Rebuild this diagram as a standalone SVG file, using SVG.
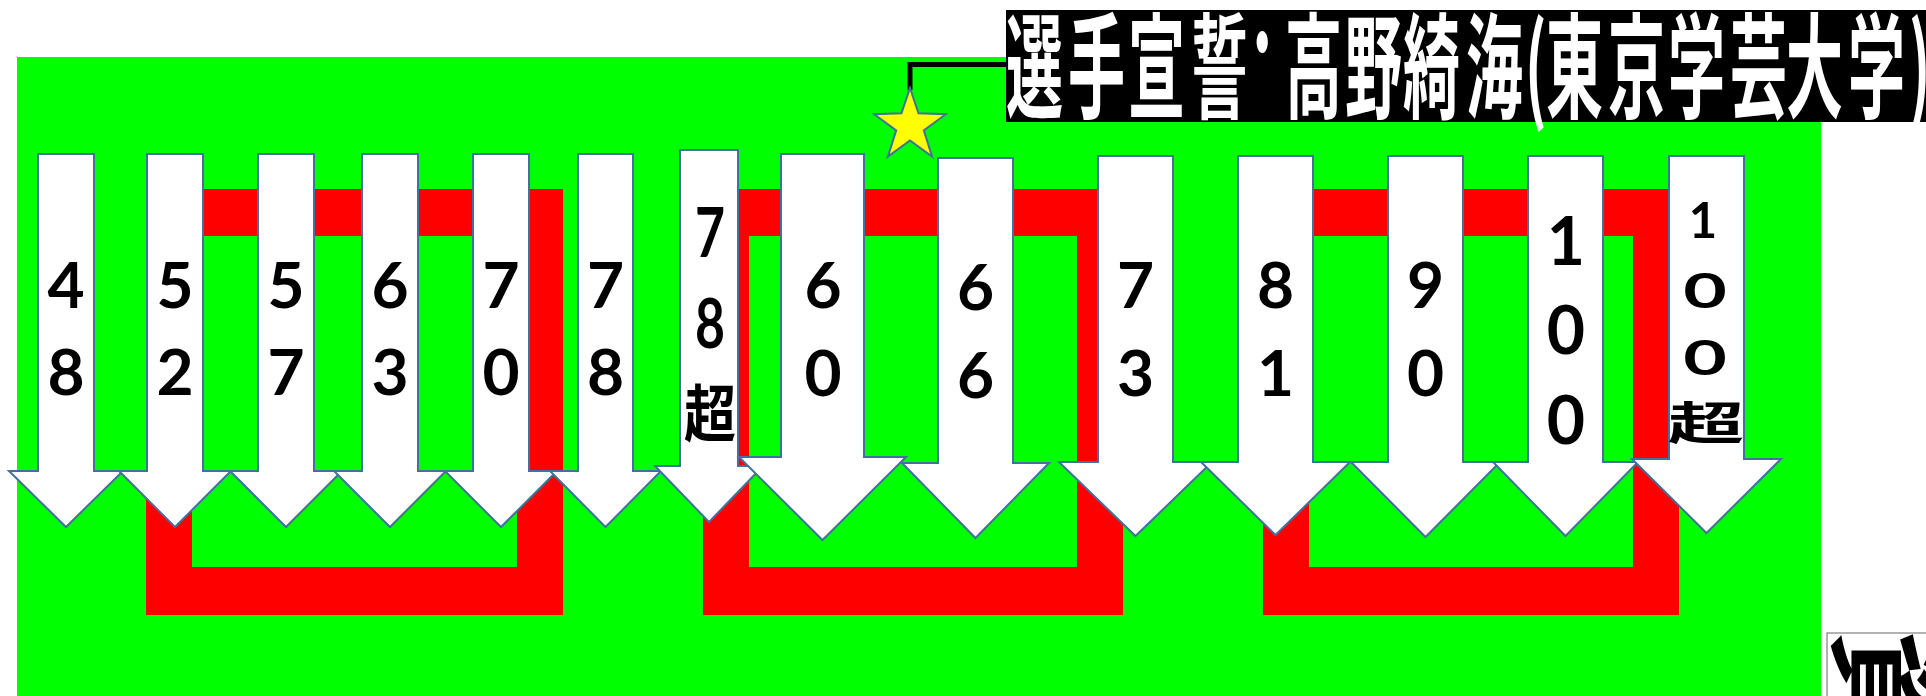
<svg xmlns="http://www.w3.org/2000/svg" width="1926" height="696" viewBox="0 0 1926 696">
<style>
.bg{fill:#00FF00}
.frame{fill:#FF0000;fill-rule:evenodd}
.arr{fill:#FFFFFF;stroke:#41719C;stroke-width:2;stroke-linejoin:miter}
.d{font-family:Lato,"Liberation Sans","Noto Sans CJK JP",sans-serif;font-weight:700;font-size:64px;fill:#000;text-anchor:middle}
.k{font-family:"Noto Sans CJK JP",sans-serif;font-weight:700;fill:#000;text-anchor:middle}
.title{font-family:"Noto Sans CJK JP",sans-serif;font-weight:700;font-size:114px;fill:#FFFFFF}
.conn{fill:none;stroke:#000;stroke-width:5}
</style>
<rect class="bg" x="17" y="57" width="1804" height="639"/>
<g id="frames">
<path class="frame" d="M146 189H563V615H146Z M192 236V567H517V236Z"/>
<path class="frame" d="M703 189H1123V615H703Z M749 236V567H1077V236Z"/>
<path class="frame" d="M1263 189H1679V615H1263Z M1309 236V567H1633V236Z"/>
</g>
<g id="connectors">
<polyline class="conn" points="910,90 910,64.5 1008,64.5"/>
</g>
<g id="arrow-48">
<path class="arr" d="M38 154H94V471H123L66 527L9 471H38Z"/>
<text class="d" x="66" y="308">4</text><text class="d" x="66" y="395">8</text>
</g>
<g id="arrow-52">
<path class="arr" d="M147 154H203V471H231L175 527L119 471H147Z"/>
<text class="d" x="175" y="308">5</text><text class="d" x="175" y="395">2</text>
</g>
<g id="arrow-57">
<path class="arr" d="M258 154H314V471H342L286 527L230 471H258Z"/>
<text class="d" x="286" y="308">5</text><text class="d" x="286" y="395">7</text>
</g>
<g id="arrow-63">
<path class="arr" d="M362 154H418V471H446L390 527L334 471H362Z"/>
<text class="d" x="390" y="308">6</text><text class="d" x="390" y="395">3</text>
</g>
<g id="arrow-70">
<path class="arr" d="M473 154H529V471H557L501 527L445 471H473Z"/>
<text class="d" x="501" y="308">7</text><text class="d" x="501" y="395">0</text>
</g>
<g id="arrow-78">
<path class="arr" d="M578 154H633V471H661L605.5 527L550 471H578Z"/>
<text class="d" x="605.5" y="308">7</text><text class="d" x="605.5" y="395">8</text>
</g>
<g id="arrow-78over">
<path class="arr" d="M680 150H738V466H763L709 522L655 466H680Z"/>
<g transform="translate(710,0) scale(0.75,1)">
<text class="d" x="0" y="257" style="font-size:69px">7</text>
<text class="d" x="0" y="348" style="font-size:69px">8</text>
</g>
<text class="k" x="710" y="437" style="font-size:62px" textLength="52" lengthAdjust="spacingAndGlyphs">超</text>
</g>
<g id="arrow-60">
<path class="arr" d="M781 154H864V457H906L822.5 540L739 457H781Z"/>
<text class="d" x="823" y="308">6</text><text class="d" x="823" y="396">0</text>
</g>
<g id="arrow-66">
<path class="arr" d="M938 158H1013V463H1049L975.5 538L902 463H938Z"/>
<text class="d" x="975.5" y="310">6</text><text class="d" x="975.5" y="398">6</text>
</g>
<g id="arrow-73">
<path class="arr" d="M1098 156H1173V462H1212L1135.5 536L1059 462H1098Z"/>
<text class="d" x="1135.5" y="308">7</text><text class="d" x="1135.5" y="396">3</text>
</g>
<g id="arrow-81">
<path class="arr" d="M1238 156H1313V462H1350L1275.5 535L1201 462H1238Z"/>
<text class="d" x="1275.5" y="308">8</text><text class="d" x="1275.5" y="396">1</text>
</g>
<g id="arrow-90">
<path class="arr" d="M1388 156H1463V462H1500L1425.5 537L1351 462H1388Z"/>
<text class="d" x="1425.5" y="308">9</text><text class="d" x="1425.5" y="396">0</text>
</g>
<g id="arrow-100">
<path class="arr" d="M1528 156H1603V462H1638L1565.5 536L1493 462H1528Z"/>
<text class="d" x="1566" y="265" style="font-size:66px">1</text>
<text class="d" x="1566" y="354" style="font-size:66px">0</text>
<text class="d" x="1566" y="444" style="font-size:66px">0</text>
</g>
<g id="arrow-100over">
<path class="arr" d="M1669 156H1744V459H1781L1706.5 533L1632 459H1669Z"/>
<text class="d" x="1703" y="238" style="font-size:49px">1</text>
<text class="d" transform="translate(1705,308) scale(1.6,1)" x="0" y="0" style="font-size:47px">0</text>
<text class="d" transform="translate(1705,375) scale(1.6,1)" x="0" y="0" style="font-size:47px">0</text>
<text class="k" transform="translate(1706,440) scale(1.7,1)" x="0" y="0" style="font-size:45px">超</text>
</g>
<g id="star">
<polygon points="910,88 918.5,113.3 945.8,114.2 923.8,130.4 932.1,156.6 910,140.4 887.9,156.6 896.2,130.4 874.2,114.2 901.5,113.3" fill="#FFFF00" stroke="#41719C" stroke-width="2"/>
</g>
<g id="title">
<rect x="1006" y="10" width="925" height="112" fill="#000000"/>
<text class="title" transform="translate(0,109) scale(0.5,1)" x="2012 2136 2256 2382 2496 2570 2690 2806 2932 3050 3092 3216 3336 3460 3572 3696 3818" y="0 0 0 0 -24 0 0 0 0 0 0 0 0 0 0 0 0">選手宣誓･高野綺海(東京学芸大学)</text>
</g>
<g id="note">
<rect x="1827" y="633" width="200" height="200" fill="#FFFFFF" stroke="#666666" stroke-width="1"/>
<text class="k" style="font-size:120px;text-anchor:start" transform="translate(1842,630) rotate(90)" x="0" y="0">資</text>
</g>
</svg>
